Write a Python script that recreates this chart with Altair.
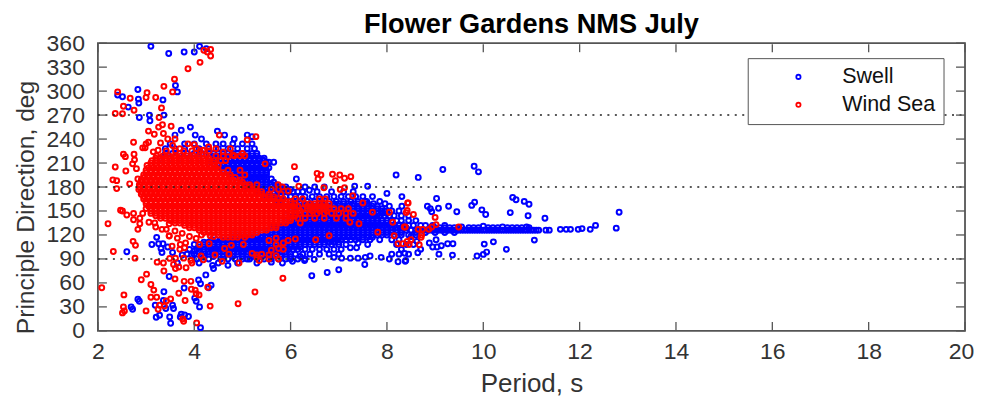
import altair as alt
import pandas as pd

title_text = "Flower Gardens NMS July"
x_ticks = [2, 4, 6, 8, 10, 12, 14, 16, 18, 20]
y_ticks = [0, 30, 60, 90, 120, 150, 180, 210, 240, 270, 300, 330, 360]
reference_dirs = [90, 180, 270]

swell_points = [
    (3.1,356),(3.47,347),(3.79,349),(4.0,349),(4.11,356),(4.25,353),(2.41,295),(2.51,293),(2.63,280),(2.83,302),
    (2.84,290),(2.85,285),(2.86,267),(3.07,270),(3.08,263),(3.35,289),(3.37,270),(3.61,307),(3.65,299),
    (3.92,255),(3.73,251),(3.6,245),(4.02,245),(4.15,240),(4.48,250),(4.63,245),(5.1,245),(5.2,243),(4.83,240),
    (5.42,214),(5.65,211),(5.55,211),(5.6,190),(6.12,190),(6.39,176),
    (6.44,69),(6.76,73),(7.0,76.5),(7.54,83),(8.23,86.5),(8.39,88),(8.05,90),(7.88,92),(7.65,93.6),(7.55,92),(7.4,91),
    (7.24,91),(7.06,91),(6.9,92),(6.49,89.5),(6.29,88),(6.04,87),(5.83,85),(5.6,86),
    (8.19,195),(7.33,181),(7.6,181),(8.0,172),(8.31,168),(7.72,159),(7.58,162),(7.96,159),(8.31,156),(7.24,104),
    (7.37,104),(7.4,110),(7.9,150),(8.65,192),(9.16,202),(9.81,206),(9.9,199),(9.03,165.6),(8.84,156),(8.9,153),
    (8.93,149),(9.07,153.5),(9.28,156),(9.45,149),(9.76,157),(9.82,161),(9.97,151.4),(10.05,145.6),(10.61,167),
    (10.68,164),(10.85,162),(10.95,158.5),(10.56,148),(10.93,144),(11.28,141),(12.82,148.5),(12.33,132),(12.76,128.5),
    (12.22,127),(12.05,128),(11.97,127),(11.81,127),(11.72,127),(11.6,127),(11.37,126),(11.3,126),(11.15,126),
    (11.06,113.6),(10.48,102),(10.21,111.4),(10.02,108.6),(10.07,98.6),(10.0,95.7),(9.87,93.6),(9.36,94.8),(9.08,96),
    (9.37,109),(9.26,109),(9.13,106.5),(9.02,114),(8.88,110),(8.95,105),(9.04,105),(8.64,97.7),(8.37,97),(8.38,87),
    (8.55,108),(8.7,102),(8.62,112),(8.5,118),(8.8,132),(8.95,132),(9.2,132),(9.55,130),(10.0,131),(10.4,130),(10.9,130),
    (2.6,99),(3.12,108),(3.22,117),(3.26,109),(3.35,109),(3.31,103),(3.33,98),(3.48,68),(3.79,53.7),(3.37,49),
    (2.83,39.6),(2.86,37),(2.69,30),(2.72,27),(3.19,32),(3.36,38),(3.41,28),(3.55,32),(3.57,28),(3.28,19.6),(3.21,17),
    (3.49,17.5),(3.51,9.6),(3.73,21),(3.8,20),(3.71,17.5),(3.88,18),(4.13,4),(4.24,70),(4.09,63.6),(4.13,59),(4.35,57),
    (4.3,54),(4.01,41),(4.04,37),(4.11,30),(4.4,78),(4.38,82),(4.1,85),(3.95,95),(3.75,95),(3.55,98),(3.45,105),
    (4.0,100),(4.2,92),(3.65,85),(4.5,85),(4.7,82),(4.9,85),(5.1,90),(5.3,85),
]

swell_rows = {
    234: [3.5,3.8,4.0,4.25,4.45,4.6,4.8,5.0,5.2],
    228: [3.4,3.6,3.8,4.1,4.3,4.5,4.7,4.9,5.1,5.25],
    222: [3.4,3.55,3.7,3.85,4.0,4.15,4.3,4.4,4.5,4.6,4.7,4.8,4.9,5.0,5.1,5.2,5.3],
    219: [4.4,4.5,4.6,4.7,4.8,4.9,5.0,5.1,5.2,5.3],
    216: [3.3,3.5,3.7,3.9,4.1,4.3,4.45,4.55,4.65,4.75,4.85,4.95,5.05,5.15,5.25,5.35,5.45],
    213: [4.45,4.55,4.65,4.75,4.85,4.95,5.05,5.15,5.25,5.35,5.45],
    210: [4.3,4.4,4.5,4.6,4.7,4.8,4.9,5.0,5.1,5.2,5.3,5.4,5.5],
    207: [4.5,4.6,4.7,4.8,4.9,5.0,5.1,5.2,5.3,5.4,5.5],
    204: [4.45,4.55,4.65,4.75,4.85,4.95,5.05,5.15,5.25,5.35,5.45,5.55],
    201: [4.6,4.7,4.8,4.9,5.0,5.1,5.2,5.3,5.4,5.5],
    198: [4.6,4.7,4.8,4.9,5.0,5.1,5.2,5.3,5.4,5.5],
    195: [4.8,4.9,5.0,5.1,5.2,5.3,5.4,5.5],
    192: [4.75,4.85,4.95,5.05,5.15,5.25,5.35,5.45],
    189: [5.0,5.1,5.2,5.3,5.4,5.5],
    186: [4.9,5.0,5.1,5.2,5.3,5.4,5.5,5.65],
    183: [5.2,5.3,5.4,5.5,5.6,5.7],
    180: [5.1,5.2,5.3,5.4,5.5,5.6,5.7,5.8,5.9,6.3,6.5,6.7],
    177: [5.4,5.5,5.6,5.7,5.8,5.9,6.0],
    174: [5.35,5.45,5.55,5.65,5.75,5.85,5.95,6.05,6.15,6.25,6.55,6.85,7.1,7.3],
    168: [5.5,5.6,5.7,5.8,5.9,6.0,6.1,6.2,6.3,6.45,6.6,6.75,6.9,7.05,7.2,7.35,7.5,7.7],
    162: [5.75,5.9,6.05,6.2,6.35,6.5,6.65,6.8,6.95,7.1,7.25,7.4,7.55,7.85],
    159: [6.2,6.4,6.9,7.0,7.1,7.2,7.3,7.4,7.5,7.6],
    156: [6.0,6.1,6.2,6.3,6.4,6.5,6.6,6.7,6.8,6.9,7.0,7.1,7.2,7.3,7.4,7.5,7.6,7.7,7.8,8.05],
    153: [6.4,6.6,6.8,7.0,7.1,7.2,7.3,7.4,7.5,7.6,7.7,7.8,7.9],
    150: [6.1,6.2,6.3,6.4,6.5,6.6,6.7,6.8,6.9,7.0,7.1,7.2,7.3,7.4,7.5,7.6,7.7,7.8,7.95,8.1,8.25],
    147: [6.5,6.6,6.7,6.8,6.9,7.0,7.1,7.2,7.3,7.4,7.5,7.6,7.7,7.8,7.9,8.0],
    144: [5.9,6.05,6.15,6.25,6.35,6.45,6.55,6.65,6.75,6.85,6.95,7.05,7.15,7.25,7.35,7.45,7.55,7.65,7.75,7.85,7.95,8.05,8.15,8.3,8.45],
    141: [6.0,6.1,6.2,6.3,6.4,6.5,6.6,6.7,6.8,6.9,7.0,7.1,7.2,7.3,7.4,7.5,7.6,7.7,7.8],
    138: [5.8,5.9,6.0,6.1,6.2,6.3,6.4,6.5,6.6,6.7,6.8,6.9,7.0,7.1,7.2,7.3,7.4,7.5,7.6,7.7,7.8,7.9,8.0,8.1,8.2,8.3,8.45,8.6],
    135: [5.9,6.0,6.1,6.2,6.3,6.4,6.5,6.6,6.7,6.8,6.9,7.0,7.1,7.2,7.3,7.4,7.5,7.6,7.7,7.8,7.9,8.0],
    132: [5.65,5.75,5.85,5.95,6.05,6.15,6.25,6.35,6.45,6.55,6.65,6.75,6.85,6.95,7.05,7.15,7.25,7.35,7.45,7.55,7.65,7.75,7.85,7.95,8.05,8.15,8.25,8.35,8.45,8.55,8.7],
    129: [5.7,5.8,5.9,6.0,6.1,6.2,6.3,6.4,6.5,6.6,6.7,6.8,6.9,7.0,7.1,7.2,7.3,7.4,7.5,7.6,7.7,7.8,7.9,8.0,8.1,8.2,8.3,8.4,8.9,9.0,9.1,9.2,9.3,9.4,9.5,9.7,9.8,9.9,10.1,10.2,10.3,10.5,10.6,10.7,10.8,10.95],
    126: [5.5,5.6,5.7,5.8,5.9,6.0,6.1,6.2,6.3,6.4,6.5,6.6,6.7,6.8,6.9,7.0,7.1,7.2,7.3,7.4,7.5,7.6,7.7,7.8,7.9,8.0,8.1,8.2,8.3,8.4,8.5,8.6,8.65,8.7,8.75,8.8,8.85,8.9,8.95,9.0,9.05,9.1,9.15,9.2,9.25,9.3,9.35,9.4,9.45,9.5,9.55,9.6,9.65,9.7,9.75,9.8,9.85,9.9,9.95,10.0,10.05,10.1,10.15,10.2,10.25,10.3,10.35,10.4,10.45,10.5,10.55,10.6,10.65,10.7,10.75,10.8,10.85,10.9,10.95,11.0,11.05,11.1],
    123: [5.3,5.4,5.5,5.6,5.7,5.8,5.9,6.0,6.1,6.2,6.3,6.4,6.5,6.6,6.7,6.8,6.9,7.0,7.1,7.2,7.3,7.4,7.5,7.6,7.7,7.8,7.9,8.0,8.1,8.2,8.3,8.6,8.8,9.0,9.2,9.4],
    120: [4.8,4.9,5.0,5.1,5.2,5.3,5.4,5.5,5.6,5.7,5.8,5.9,6.0,6.1,6.2,6.3,6.4,6.5,6.6,6.7,6.8,6.9,7.0,7.1,7.2,7.3,7.4,7.5,7.6,7.7,7.8,7.9,8.0,8.15,8.3,8.45,8.6],
    117: [4.7,4.8,4.9,5.0,5.1,5.2,5.3,5.4,5.5,5.6,5.7,5.8,5.9,6.0,6.1,6.2,6.3,6.4,6.5,6.6,6.7,6.8,6.9,7.0,7.1,7.2,7.3,7.4,7.5,7.6,7.7],
    114: [4.35,4.45,4.55,4.65,4.75,4.85,4.95,5.05,5.15,5.25,5.35,5.45,5.55,5.65,5.75,5.85,5.95,6.05,6.15,6.25,6.35,6.45,6.55,6.65,6.75,6.85,6.95,7.05,7.15,7.25,7.35,7.5,7.65,7.85,8.1,8.25],
    111: [4.2,4.3,4.4,4.5,4.6,4.7,4.8,4.9,5.0,5.1,5.2,5.3,5.4,5.5,5.6,5.7,5.8,5.9,6.0,6.1,6.2,6.3,6.4,6.5,6.6,6.7,6.8,6.9,7.0],
    108: [4.0,4.1,4.2,4.3,4.4,4.5,4.6,4.7,4.8,4.9,5.0,5.1,5.2,5.3,5.4,5.5,5.6,5.7,5.8,5.9,6.0,6.1,6.2,6.3,6.4,6.5,6.6,6.7,6.85,7.0,7.15,7.6,8.2,8.4],
    105: [4.1,4.2,4.3,4.4,4.5,4.6,4.7,4.8,4.9,5.0,5.1,5.2,5.3,5.4,5.5,5.6,5.7,5.8,5.9,6.0,6.1,6.2],
    102: [3.9,4.05,4.2,4.35,4.45,4.55,4.65,4.75,4.85,4.95,5.05,5.15,5.25,5.35,5.45,5.55,5.65,5.75,5.85,5.95,6.05,6.15,6.3,6.45,6.6,6.75,6.9,7.05,8.3],
    99: [4.1,4.2,4.3,4.4,4.5,4.6,4.7,4.8,4.9,5.0,5.1,5.2,5.3,5.4,5.5,5.6,5.7,5.8,5.9],
    96: [3.85,4.0,4.15,4.3,4.45,4.6,4.75,4.9,5.0,5.1,5.2,5.3,5.4,5.5,5.6,5.7,5.8,5.9,6.0,6.1,6.25,6.4,6.6,6.8,7.0,8.1,8.25,8.45],
    93: [4.4,4.6,4.8,5.0,5.2,5.4,5.6,5.8,6.0,6.2],
    90: [4.05,4.3,4.55,4.7,4.85,5.0,5.15,5.3,5.45,5.6,5.75,5.9,6.0,6.15,6.3],
}

wind_points = [
    (2.41,299),(2.36,272),(2.51,271.6),(2.53,281),(2.67,291),(2.75,276),(3.0,292),(3.02,298),(3.2,292),(3.32,279),
    (3.27,267),(3.37,306),(3.55,299),(3.59,315),(3.87,328),(4.12,336),(4.34,344),(4.2,351),(4.27,349),(4.34,352),
    (3.05,250),(3.52,256),(3.34,258),(3.26,255),(3.36,247),(3.17,246),(3.05,236),(3.0,234),(2.74,236),(2.93,229),(2.98,229),
    (2.53,221),(2.57,218),(2.75,221),(2.72,209),(2.36,205),(2.58,200),(2.31,189),(2.39,188),(2.39,178),(2.66,184),(2.83,190),
    (2.76,214),(2.8,203),(3.87,234),(5.1,239),(5.28,243),(4.52,245),(5.47,209),(4.8,220),(5.0,222),(4.18,226),(4.05,228),
    (3.3,235),(3.45,240),(3.55,232),(3.7,228),(3.25,226),(3.15,224),(3.6,240),(4.0,233),(4.3,230),(4.45,228),(4.6,224),(4.7,218),(4.75,228),
    (6.08,205.5),(6.55,197),(6.63,195),(6.57,190),(6.87,196),(7.02,195),(6.93,188),(7.12,191),(7.25,193),(7.03,177),(7.12,179),
    (6.69,179),(6.17,181),(5.74,183),(5.83,180),(5.95,175),(7.29,169),(7.5,160),(7.7,148.5),(8.05,148.5),(7.42,134),(7.23,136),
    (7.81,123.5),(8.12,136),(8.15,119),(8.36,130),(6.8,119),(6.52,114),(8.23,109),(8.33,109),(8.5,114),(8.43,160),(8.4,148),
    (8.55,145.6),(8.44,160),(8.42,150.6),(9.49,130),(9.0,142),(9.02,133),(8.93,130),(8.87,127),(8.74,127),(8.65,127),(8.72,120),
    (8.71,117),(8.67,107.7),(8.42,112),(8.46,108),(8.38,130),
    (2.21,134),(2.32,99.4),(2.08,54),(2.73,112),(2.78,107),(2.77,91),(3.23,86),(3.36,85),(3.37,75),(3.01,71),(2.9,64),(3.1,58),
    (3.16,51),(2.54,45),(3.1,42),(3.22,42),(2.53,30),(2.55,25),(2.51,22.5),(3.0,25),(3.25,27),(3.28,32),(3.38,31),(3.42,37.5),
    (3.51,40),(3.6,65),(3.79,62),(3.93,62),(3.68,47),(3.81,38),(3.94,52),(4.02,51),(4.04,46.5),(4.1,45),(4.33,31),(4.91,34),
    (5.26,48.7),(4.28,54.5),(3.76,15),(3.78,12),(4.05,10),(5.84,65.8),
    (3.54,106),(3.71,108),(3.82,110),(3.8,104),(3.7,102),(3.48,118.6),(3.49,90.7),(3.61,91),(3.57,83),(3.61,78),(3.68,80),(3.83,79),
    (3.78,91),(3.95,85),(3.93,88),(4.14,93.6),(4.19,89),(4.04,115.7),(4.11,108),(4.31,109),(4.33,119),(4.43,95),(4.63,103),(4.77,107),
    (4.72,96),(4.58,87),(4.93,85),(5.02,108),
    (2.47,151),(2.51,150),(2.6,145),(2.74,147),(2.74,139),(2.87,141),(2.87,134),(2.83,127),(2.93,147),(3.06,136),(3.18,135),(3.2,130),
    (3.33,127),(3.42,127),(3.48,134),(3.48,119),(3.6,125),(3.75,122),(3.65,116),(3.9,118),(4.15,120),(4.4,118),
    (5.55,113),(5.7,116),(5.85,110),(5.95,113),(6.1,115),(5.7,108),(5.75,103),(5.85,102),(5.6,101),(5.2,97),(5.3,95),(5.4,96),
    (5.55,95),(5.7,94),(5.75,90),(5.55,90),(5.3,92),(5.35,88),
]

wind_rows = {
    225: [3.42,3.61,3.78,3.95,4.12,4.31],
    219: [3.22,3.35,3.48,3.6,3.72,3.85,3.98,4.1,4.25,4.45,4.6,4.83,4.95,5.05],
    216: [3.2,3.3,3.4,3.5,3.6,3.7,3.8,3.9,4.0,4.1,4.2,4.3],
    213: [3.12,3.22,3.32,3.42,3.52,3.62,3.72,3.82,3.92,4.02,4.12,4.22,4.32,4.42,4.55,4.65],
    210: [3.1,3.2,3.3,3.4,3.5,3.6,3.7,3.8,3.9,4.0,4.1,4.2,4.3,4.4],
    207: [3.02,3.12,3.22,3.32,3.42,3.52,3.62,3.72,3.82,3.92,4.02,4.12,4.22,4.32,4.42,4.5],
    204: [3.05,3.15,3.25,3.35,3.45,3.55,3.65,3.75,3.85,3.95,4.05,4.15,4.25,4.35,4.45],
    201: [3.0,3.1,3.2,3.3,3.4,3.5,3.6,3.7,3.8,3.9,4.0,4.1,4.2,4.3,4.4,4.5,4.7,4.95],
    198: [3.0,3.1,3.2,3.3,3.4,3.5,3.6,3.7,3.8,3.9,4.0,4.1,4.2,4.3,4.4,4.5,4.6],
    195: [2.95,3.05,3.15,3.25,3.35,3.45,3.55,3.65,3.75,3.85,3.95,4.05,4.15,4.25,4.35,4.45,4.55,4.65,4.75,5.05],
    192: [2.95,3.05,3.15,3.25,3.35,3.45,3.55,3.65,3.75,3.85,3.95,4.05,4.15,4.25,4.35,4.45,4.55,4.65,4.75,4.85],
    189: [2.9,3.0,3.1,3.2,3.3,3.4,3.5,3.6,3.7,3.8,3.9,4.0,4.1,4.2,4.3,4.4,4.5,4.6,4.7,4.8,4.95],
    186: [2.9,3.0,3.1,3.2,3.3,3.4,3.5,3.6,3.7,3.8,3.9,4.0,4.1,4.2,4.3,4.4,4.5,4.6,4.7,4.8,4.9,5.0],
    183: [2.86,2.96,3.06,3.16,3.26,3.36,3.46,3.56,3.66,3.76,3.86,3.96,4.06,4.16,4.26,4.36,4.46,4.56,4.66,4.76,4.86,4.96,5.06,5.15,5.3],
    180: [2.86,2.96,3.06,3.16,3.26,3.36,3.46,3.56,3.66,3.76,3.86,3.96,4.06,4.16,4.26,4.36,4.46,4.56,4.66,4.76,4.86,4.96,5.06,5.16],
    177: [2.85,2.95,3.05,3.15,3.25,3.35,3.45,3.55,3.65,3.75,3.85,3.95,4.05,4.15,4.25,4.35,4.45,4.55,4.65,4.75,4.85,4.95,5.05,5.15,5.25,5.3,5.6,5.75],
    174: [2.9,3.0,3.1,3.2,3.3,3.4,3.5,3.6,3.7,3.8,3.9,4.0,4.1,4.2,4.3,4.4,4.5,4.6,4.7,4.8,4.9,5.0,5.1,5.2,5.3,5.4],
    171: [2.9,3.0,3.1,3.2,3.3,3.4,3.5,3.6,3.7,3.8,3.9,4.0,4.1,4.2,4.3,4.4,4.5,4.6,4.7,4.8,4.9,5.0,5.1,5.2,5.3,5.4,5.55,5.8],
    168: [2.95,3.05,3.15,3.25,3.35,3.45,3.55,3.65,3.75,3.85,3.95,4.05,4.15,4.25,4.35,4.45,4.55,4.65,4.75,4.85,4.95,5.05,5.15,5.25,5.35,5.45,5.55,5.65],
    165: [2.95,3.05,3.15,3.25,3.35,3.45,3.55,3.65,3.75,3.85,3.95,4.05,4.15,4.25,4.35,4.45,4.55,4.65,4.75,4.85,4.95,5.05,5.15,5.25,5.35,5.45,5.55,5.65,5.75,5.85,6.1,6.25,6.6,6.72],
    162: [3.0,3.1,3.2,3.3,3.4,3.5,3.6,3.7,3.8,3.9,4.0,4.1,4.2,4.3,4.4,4.5,4.6,4.7,4.8,4.9,5.0,5.1,5.2,5.3,5.4,5.5,5.6,5.7,5.8,5.9,6.0],
    159: [3.0,3.1,3.2,3.3,3.4,3.5,3.6,3.7,3.8,3.9,4.0,4.1,4.2,4.3,4.4,4.5,4.6,4.7,4.8,4.9,5.0,5.1,5.2,5.3,5.4,5.5,5.6,5.7,5.8,5.9,6.0,6.1,6.3,6.4,6.5,6.6,6.7,6.8],
    156: [3.05,3.15,3.25,3.35,3.45,3.55,3.65,3.75,3.85,3.95,4.05,4.15,4.25,4.35,4.45,4.55,4.65,4.75,4.85,4.95,5.05,5.15,5.25,5.35,5.45,5.55,5.65,5.75,5.85,5.95,6.05,6.15,6.35,6.45,6.55,6.65,6.75],
    153: [3.0,3.1,3.2,3.3,3.4,3.5,3.6,3.7,3.8,3.9,4.0,4.1,4.2,4.3,4.4,4.5,4.6,4.7,4.8,4.9,5.0,5.1,5.2,5.3,5.4,5.5,5.6,5.7,5.8,5.9,6.0,6.1,6.25,6.4,6.5,6.6,6.7,6.8,6.9,7.05,7.2],
    150: [3.1,3.2,3.3,3.4,3.5,3.6,3.7,3.8,3.9,4.0,4.1,4.2,4.3,4.4,4.5,4.6,4.7,4.8,4.9,5.0,5.1,5.2,5.3,5.4,5.5,5.6,5.7,5.8,5.9,6.0,6.1,6.2,6.45,6.6,6.75],
    147: [3.1,3.2,3.3,3.4,3.5,3.6,3.7,3.8,3.9,4.0,4.1,4.2,4.3,4.4,4.5,4.6,4.7,4.8,4.9,5.0,5.1,5.2,5.3,5.4,5.5,5.6,5.7,5.8,5.9,6.0,6.1,6.2,6.3,6.4,6.55,6.7,6.85,7.0,7.15,7.3],
    144: [3.2,3.3,3.4,3.5,3.6,3.7,3.8,3.9,4.0,4.1,4.2,4.3,4.4,4.5,4.6,4.7,4.8,4.9,5.0,5.1,5.2,5.3,5.4,5.5,5.6,5.7,5.8,5.9,6.0,6.1],
    141: [3.3,3.4,3.5,3.6,3.7,3.8,3.9,4.0,4.1,4.2,4.3,4.4,4.5,4.6,4.7,4.8,4.9,5.0,5.1,5.2,5.3,5.4,5.5,5.6,5.7,5.8,5.9,6.0,6.15,6.3,6.5,6.7,6.95,7.15],
    138: [3.5,3.6,3.7,3.8,3.9,4.0,4.1,4.2,4.3,4.4,4.5,4.6,4.7,4.8,4.9,5.0,5.1,5.2,5.3,5.4,5.5,5.6,5.7,5.8,5.9,6.0],
    135: [3.6,3.7,3.8,3.9,4.0,4.1,4.2,4.3,4.4,4.5,4.6,4.7,4.8,4.9,5.0,5.1,5.2,5.3,5.4,5.5,5.6,5.7,5.8,5.9,6.2],
    132: [3.8,3.9,4.0,4.1,4.2,4.3,4.4,4.5,4.6,4.7,4.8,4.9,5.0,5.1,5.2,5.3,5.4,5.5,5.6,5.7],
    129: [3.9,4.0,4.1,4.2,4.3,4.4,4.5,4.6,4.7,4.8,4.9,5.0,5.1,5.2,5.3,5.4,5.5,5.6,5.7],
    126: [4.1,4.2,4.3,4.4,4.5,4.6,4.7,4.8,4.9,5.0,5.1,5.2,5.3,5.4,5.5],
    123: [4.2,4.3,4.4,4.5,4.6,4.7,4.8,4.9,5.0,5.1,5.2,5.3],
    120: [4.5,4.6,4.7,4.8,4.9,5.0,5.1,5.2],
    117: [4.6,4.7,4.8,4.9,5.05],
}

W, H = 868, 288
FRAME = "#555555"
TEXT = "#333333"
TICK_LEN = 9


def table(points, rows, name):
    recs = [{"period": x, "direction": y, "series": name} for x, y in points]
    for y, xs in rows.items():
        recs += [{"period": x, "direction": y, "series": name} for x in xs]
    return recs


data = pd.DataFrame(table(swell_points, swell_rows, "Swell") + table(wind_points, wind_rows, "Wind Sea"))

x_scale = alt.Scale(domain=[2, 20], nice=False, zero=False)
y_scale = alt.Scale(domain=[0, 360], nice=False, zero=False)
x_axis = alt.Axis(values=x_ticks, format="d", grid=False, domain=False, ticks=False, labelFontSize=23,
                  labelColor=TEXT, labelFont="Liberation Sans", labelPadding=10,
                  labelOffset={"condition": {"test": "datum.value === 20", "value": -4}, "value": 0},
                  titleFontSize=26, titleColor=TEXT, titleFont="Liberation Sans", titleFontWeight="normal",
                  titlePadding=7, labelFlush=False, labelOverlap=False)
y_axis = alt.Axis(values=y_ticks, format="d", grid=False, domain=False, ticks=False, labelFontSize=23,
                  labelColor=TEXT, labelFont="Liberation Sans", labelPadding=13.5,
                  titleFontSize=24.7, titleColor=TEXT, titleFont="Liberation Sans", titleFontWeight="normal",
                  titlePadding=8, titleY=164, labelOverlap=False)
X_TITLE = "Period, s"
Y_TITLE = "Principle Direction, deg"

points = alt.Chart(data).mark_point(shape="circle", filled=False, size=24, strokeWidth=2, opacity=1).encode(
    x=alt.X("period:Q", scale=x_scale, title=X_TITLE, axis=x_axis),
    y=alt.Y("direction:Q", scale=y_scale, title=Y_TITLE, axis=y_axis),
    color=alt.Color("series:N", scale=alt.Scale(domain=["Swell", "Wind Sea"], range=["#0000ff", "#ff0000"]),
                    legend=alt.Legend(title=None, orient="none", legendX=650.5, legendY=15, fillColor="white",
                                      strokeColor=FRAME, padding=8, symbolOffset=32, labelOffset=33,
                                      symbolSize=18, symbolStrokeWidth=1.8, labelFontSize=21.5, labelFont="Liberation Sans",
                                      labelColor="#111111", rowPadding=5, symbolType="circle")),
    order=alt.Order("series:N"),
)

dots = alt.Chart(pd.DataFrame({"direction": reference_dirs})).mark_rule(
    color="#222222", strokeWidth=1.5, strokeDash=[2, 5.5]
).encode(y=alt.Y("direction:Q", scale=y_scale, title=Y_TITLE, axis=y_axis), x=alt.value(0), x2=alt.value(W))

xt = pd.DataFrame({"t": x_ticks})
yt = pd.DataFrame({"t": y_ticks})
tick_style = dict(color=FRAME, strokeWidth=1.3)
x_enc = alt.X("t:Q", scale=x_scale, title=X_TITLE, axis=x_axis)
y_enc = alt.Y("t:Q", scale=y_scale, title=Y_TITLE, axis=y_axis)
x_bottom = alt.Chart(xt).mark_rule(**tick_style).encode(x=x_enc, y=alt.value(H), y2=alt.value(H - TICK_LEN))
x_top = alt.Chart(xt).mark_rule(**tick_style).encode(x=x_enc, y=alt.value(1), y2=alt.value(TICK_LEN))
y_left = alt.Chart(yt).mark_rule(**tick_style).encode(y=y_enc, x=alt.value(1), x2=alt.value(TICK_LEN))
y_right = alt.Chart(yt).mark_rule(**tick_style).encode(y=y_enc, x=alt.value(W), x2=alt.value(W - TICK_LEN))

chart = alt.layer(points, dots, x_bottom, x_top, y_left, y_right).properties(
    width=W, height=H,
    title=alt.TitleParams(title_text, fontSize=27.2, font="Liberation Sans", fontWeight="bold", color="#000000", offset=-7, anchor="middle"),
    padding={"left": 5, "right": 0, "top": 2, "bottom": 5},
).configure_view(stroke=FRAME, strokeWidth=1.8)

chart.save("out.html", embed_options={"renderer": "svg", "actions": False})
